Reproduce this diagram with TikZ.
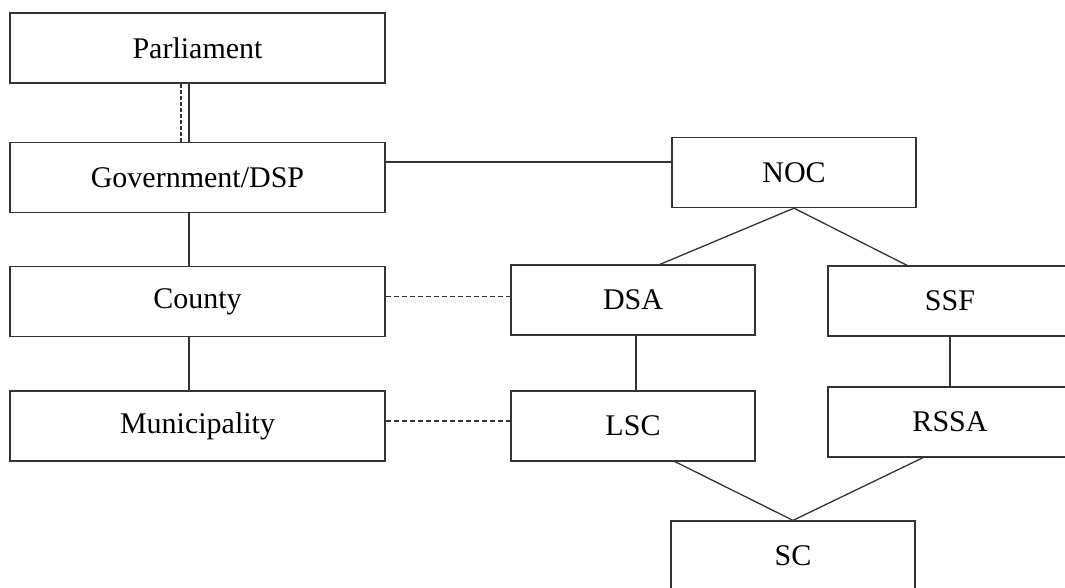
\documentclass[tikz,border=0pt]{standalone}
\usepackage{fontspec}
\setmainfont{Liberation Serif}
\begin{document}
\begin{tikzpicture}[x=1pt,y=-1pt,
  box/.style={draw=black!80,line width=1.3pt,rectangle,inner sep=0pt,font=\fontsize{30}{33}\selectfont},
  lbox/.style={box,minimum width=375pt,minimum height=70pt},
  rbox/.style={box,minimum width=244pt,minimum height=70pt},
  conn/.style={draw=black!80,line width=1.3pt},
  dconn/.style={conn,dash pattern=on 5pt off 3pt}]
\useasboundingbox (0,0) rectangle (1065,587);
\clip (0,0) rectangle (1065,587);
\node[lbox] (parl) at (197.5,48) {Parliament};
\node[lbox] (gov) at (197.5,177.5) {Government/DSP};
\node[lbox] (county) at (197.5,301.5) {County};
\node[lbox] (muni) at (197.5,426) {Municipality};
\node[rbox] (noc) at (794,172.5) {NOC};
\node[rbox] (dsa) at (633,300) {DSA};
\node[rbox] (ssf) at (950,301) {SSF};
\node[rbox] (lsc) at (633,426) {LSC};
\node[rbox] (rssa) at (950,422) {RSSA};
\node[rbox] (sc) at (793,556) {SC};
% Parliament - Government
\draw[conn] ([xshift=-8.5pt]parl.south) -- ([xshift=-8.5pt]parl.south |- gov.north);
\draw[dconn,dash pattern=on 4pt off 2pt] ([xshift=-16.5pt]parl.south) -- ([xshift=-16.5pt]parl.south |- gov.north);
\draw[conn] ([xshift=-8.5pt]gov.south) -- ([xshift=-8.5pt]gov.south |- county.north);
\draw[conn] ([xshift=-8.5pt]county.south) -- ([xshift=-8.5pt]county.south |- muni.north);
% Government - NOC
\draw[conn] ([yshift=15.5pt]gov.east) -- ([yshift=15.5pt]gov.east -| noc.west);
% dashed links
\draw[dconn] ([yshift=5pt]county.east) -- ([yshift=5pt]county.east -| dsa.west);
\draw[dconn] ([yshift=5pt]muni.east) -- ([yshift=5pt]muni.east -| lsc.west);
% NOC branches
\draw[conn] (noc.south) -- ([xshift=27pt]dsa.north);
\draw[conn] (noc.south) -- ([xshift=-43pt]ssf.north);
\draw[conn] ([xshift=3pt]dsa.south) -- ([xshift=3pt]lsc.north);
\draw[conn] (ssf.south) -- (rssa.north);
\draw[conn] ([xshift=42pt]lsc.south) -- (sc.north);
\draw[conn] ([xshift=-27pt]rssa.south) -- (sc.north);
\end{tikzpicture}
\end{document}
